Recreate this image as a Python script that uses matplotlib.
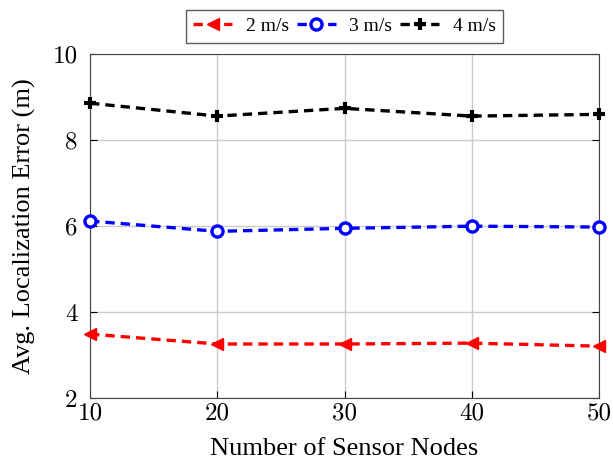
import matplotlib.pyplot as plt

plt.rcParams["font.family"] = ["Liberation Serif", "DejaVu Serif"]
plt.rcParams["mathtext.fontset"] = "cm"

nodes = [10, 20, 30, 40, 50]
err_2ms = [3.49, 3.26, 3.26, 3.28, 3.21]
err_3ms = [6.12, 5.88, 5.95, 6.00, 5.98]
err_4ms = [8.86, 8.56, 8.74, 8.56, 8.60]

fig = plt.figure(figsize=(6.13, 4.63), dpi=100)
ax = fig.add_axes([0.147, 0.140, 0.830, 0.743])

dash = (2.8, 1.8)
ax.plot(nodes, err_2ms, color="red", linestyle="--", dashes=dash, linewidth=2.4, marker="<",
        markersize=9, label="2 m/s", clip_on=False, zorder=5)
ax.plot(nodes, err_3ms, color="blue", linestyle="--", dashes=dash, linewidth=2.4, marker="o",
        markersize=8, markerfacecolor="white", markeredgewidth=2.4, label="3 m/s",
        clip_on=False, zorder=5)
ax.plot(nodes, err_4ms, color="black", linestyle="--", dashes=dash, linewidth=2.4, marker="+",
        markersize=9, markeredgewidth=3, label="4 m/s", clip_on=False, zorder=5)

ax.set_xlim(10, 50)
ax.set_ylim(2, 10)
ax.set_xticks([10, 20, 30, 40, 50])
ax.set_yticks([2, 4, 6, 8, 10])
ax.tick_params(direction="in", labelsize=18, length=5, top=False, right=True,
               labelfontfamily="cmr10")
ax.tick_params(axis="y", pad=9)
ax.tick_params(axis="x", pad=3)
ax.grid(True, color="#cccccc", linewidth=1.0)
ax.set_axisbelow(True)
for s in ax.spines.values():
    s.set_color("#444444")

ax.set_xlabel("Number of Sensor Nodes", fontsize=19, labelpad=10)
ax.set_ylabel("Avg. Localization Error (m)", fontsize=19, labelpad=12)

leg = ax.legend(loc="lower center", bbox_to_anchor=(0.5, 1.005), ncol=3, fontsize=14,
                frameon=True, fancybox=False, edgecolor="#333333", handlelength=2.0,
                columnspacing=0.4, handletextpad=0.7, borderpad=0.4)
leg.get_frame().set_linewidth(1.0)

fig.savefig("out.png", dpi=100)
